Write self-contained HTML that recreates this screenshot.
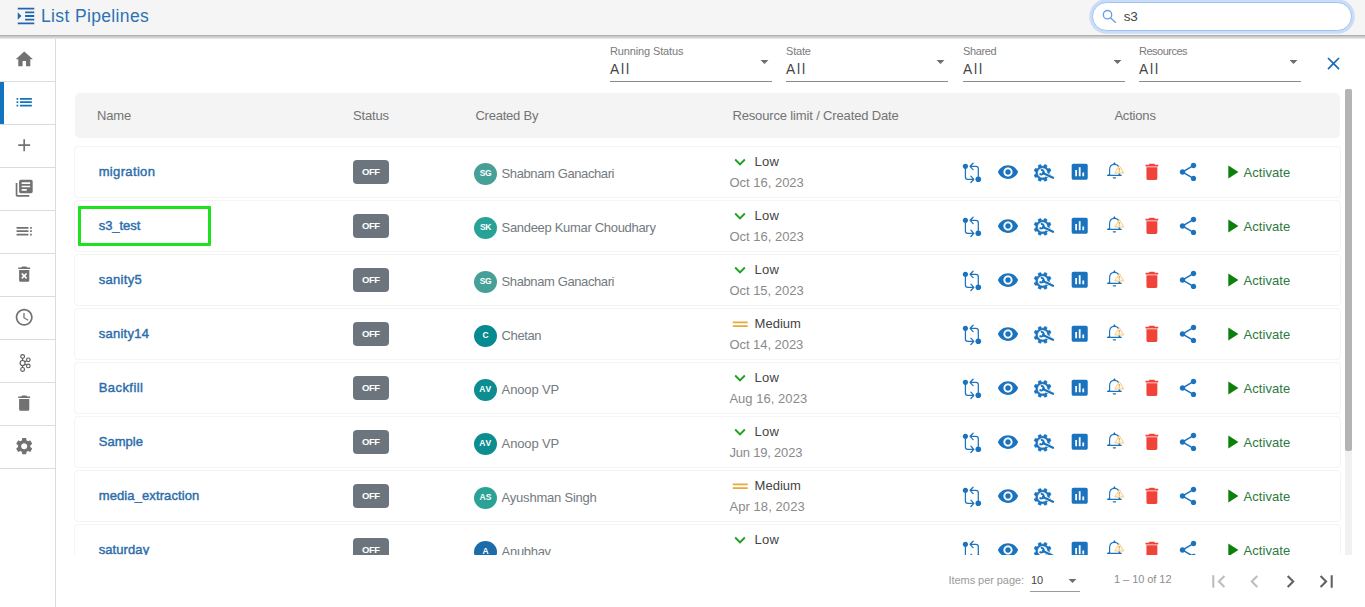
<!DOCTYPE html>
<html lang="en"><head><meta charset="utf-8"><title>List Pipelines</title>
<style>
html,body{margin:0;padding:0;}
body{width:1365px;height:607px;overflow:hidden;background:#fff;font-family:"Liberation Sans", sans-serif;position:relative;}
.t{position:absolute;white-space:nowrap;line-height:20px;display:block;}
.ic{position:absolute;display:block;}
.abs{position:absolute;}
.ctr{transform:translateX(-50%);}
.sb{-webkit-text-stroke:0.42px #2b6dab;}
#topbar{position:absolute;left:0;top:0;width:1365px;height:35px;background:#f5f5f5;z-index:5;}
#tshadow{position:absolute;left:0;top:35px;width:1365px;height:4px;z-index:6;background:linear-gradient(to bottom,#b1b1b1 0,#b1b1b1 25%,#c6c6c6 25%,#c6c6c6 50%,#d7d7d7 50%,#d7d7d7 75%,#e4e4e4 75%,#e4e4e4 100%);}
#search{position:absolute;left:1092px;top:2px;width:258px;height:27px;border:1px solid #9cc3f3;border-radius:15px;background:#fff;box-shadow:0 0 0 2.8px rgba(13,110,253,.18);}
#side{position:absolute;left:0;top:35px;width:55px;height:572px;border-right:1px solid #dcdcdc;background:#fff;}
.sitem{position:absolute;left:0;width:55px;height:42px;border-bottom:1px solid #dddddd;}
.sel{position:absolute;height:1px;background:#8a8a8a;}
#thead{position:absolute;left:75px;top:93px;width:1265px;height:45px;background:#f4f4f4;border-radius:5px;}
#clip{position:absolute;left:70px;top:139px;width:1290px;height:416px;overflow:hidden;}
.row{position:absolute;left:4px;width:1265px;height:50px;border:1px solid #f4f4f4;border-radius:4px;background:#fff;}
.badge{position:absolute;left:283px;width:36px;height:24px;border-radius:4px;background:#6c757d;}
.av{position:absolute;width:23px;height:22px;border-radius:50%;}
</style></head><body>

<div id="topbar">
<svg class="ic" style="left:14.50px;top:4.80px;width:22px;height:22px;fill:#2268ab;" viewBox="0 0 24 24"><path d="M3 21h18v-2H3v2zM3 8v8l4-4-4-4zm8 9h10v-2H11v2zM3 3v2h18V3H3zm8 6h10V7H11v2zm0 4h10v-2H11v2z"/></svg>
<span class="t " style="left:41.00px;top:5.64px;font-size:17.5px;color:#2e72b2;font-weight:400;letter-spacing:0.357px">List Pipelines</span>
<div id="search"></div>
<svg class="ic" style="left:1100px;top:8px;width:20px;height:18px" viewBox="0 0 20 18" fill="none" stroke="#6a9fe0" stroke-width="1.35" stroke-linecap="round"><circle cx="7.5" cy="6.7" r="4.2"/><path d="M10.700 10L15.500 14.400"/></svg>
<span class="t " style="left:1123.70px;top:6.52px;font-size:13.5px;color:#444;font-weight:400;letter-spacing:-0.250px">s3</span>
</div>
<div id="tshadow"></div>
<div id="side"></div>
<div class="abs" style="left:0;top:81px;width:55px;height:1px;background:#dcdcdc"></div>
<svg class="ic" style="left:14.00px;top:48.80px;width:20.6px;height:20.6px;fill:#727272;" viewBox="0 0 24 24"><path d="M10 20v-6h4v6h5v-8h3L12 3 2 12h3v8z"/></svg>
<div class="abs" style="left:0;top:124px;width:55px;height:1px;background:#dcdcdc"></div>
<div class="abs" style="left:0;top:82px;width:4px;height:42px;background:#1273be"></div>
<svg class="ic" style="left:13.90px;top:92.00px;width:20.4px;height:20.4px;fill:#1273be;" viewBox="0 0 24 24"><path d="M3 13h2v-2H3v2zm0 4h2v-2H3v2zm0-8h2V7H3v2zm4 4h14v-2H7v2zm0 4h14v-2H7v2zM7 7v2h14V7H7z"/></svg>
<div class="abs" style="left:0;top:167px;width:55px;height:1px;background:#dcdcdc"></div>
<svg class="ic" style="left:13.90px;top:135.00px;width:20.4px;height:20.4px;fill:#727272;" viewBox="0 0 24 24"><path d="M19 13h-6v6h-2v-6H5v-2h6V5h2v6h6v2z"/></svg>
<div class="abs" style="left:0;top:210px;width:55px;height:1px;background:#dcdcdc"></div>
<svg class="ic" style="left:13.90px;top:178.00px;width:20.4px;height:20.4px;fill:#727272;" viewBox="0 0 24 24"><path d="M4 6H2v14c0 1.1.9 2 2 2h14v-2H4V6zm16-4H8c-1.1 0-2 .9-2 2v12c0 1.1.9 2 2 2h12c1.1 0 2-.9 2-2V4c0-1.1-.9-2-2-2zm-1 9H9V9h10v2zm-4 4H9v-2h6v2zm4-8H9V5h10v2z"/></svg>
<div class="abs" style="left:0;top:253px;width:55px;height:1px;background:#dcdcdc"></div>
<svg class="ic" style="left:13.90px;top:221.00px;width:20.4px;height:20.4px;fill:#727272;" viewBox="0 0 24 24"><path d="M3 9h14V7H3v2zm0 4h14v-2H3v2zm0 4h14v-2H3v2zm16 0h2v-2h-2v2zm0-10v2h2V7h-2zm0 6h2v-2h-2v2z"/></svg>
<div class="abs" style="left:0;top:296px;width:55px;height:1px;background:#dcdcdc"></div>
<svg class="ic" style="left:13.90px;top:264.00px;width:20.4px;height:20.4px;fill:#727272;" viewBox="0 0 24 24"><path d="M6 19c0 1.1.9 2 2 2h8c1.1 0 2-.9 2-2V7H6v12zm2.46-7.12l1.41-1.41L12 12.59l2.12-2.12 1.41 1.41L13.41 14l2.12 2.12-1.41 1.41L12 15.41l-2.12 2.12-1.41-1.41L10.59 14l-2.13-2.12zM15.5 4l-1-1h-5l-1 1H5v2h14V4z"/></svg>
<div class="abs" style="left:0;top:339px;width:55px;height:1px;background:#dcdcdc"></div>
<svg class="ic" style="left:13.90px;top:307.00px;width:20.4px;height:20.4px;fill:#727272;" viewBox="0 0 24 24"><path d="M11.99 2C6.47 2 2 6.48 2 12s4.47 10 9.99 10C17.52 22 22 17.52 22 12S17.52 2 11.99 2zM12 20c-4.42 0-8-3.58-8-8s3.58-8 8-8 8 3.58 8 8-3.58 8-8 8zm.5-13H11v6l5.25 3.15.75-1.23-4.5-2.67z"/></svg>
<div class="abs" style="left:0;top:382px;width:55px;height:1px;background:#dcdcdc"></div>
<svg class="ic" style="left:14px;top:350.6px;width:24px;height:24px" viewBox="0 0 24 24" fill="none" stroke="#5c5c5c" stroke-width="1.15"><circle cx="8.6" cy="5.5" r="1.9"/><circle cx="8.6" cy="12" r="2.5"/><circle cx="8.6" cy="18.4" r="1.9"/><circle cx="14.3" cy="8.8" r="1.8"/><circle cx="14.3" cy="14.9" r="1.8"/><path d="M8.6 7.400V9.500M8.600 14.500V16.500M10.800 10.800L12.700 9.700M10.800 13.200L12.700 14.100"/></svg>
<div class="abs" style="left:0;top:425px;width:55px;height:1px;background:#dcdcdc"></div>
<svg class="ic" style="left:13.90px;top:393.00px;width:20.4px;height:20.4px;fill:#727272;" viewBox="0 0 24 24"><path d="M6 19c0 1.1.9 2 2 2h8c1.1 0 2-.9 2-2V7H6v12zM19 4h-3.5l-1-1h-5l-1 1H5v2h14V4z"/></svg>
<div class="abs" style="left:0;top:468px;width:55px;height:1px;background:#dcdcdc"></div>
<svg class="ic" style="left:13.90px;top:436.00px;width:20.4px;height:20.4px;fill:#727272;" viewBox="0 0 24 24"><path d="M19.14 12.94c.04-.3.06-.61.06-.94 0-.32-.02-.64-.07-.94l2.03-1.58c.18-.14.23-.41.12-.61l-1.92-3.32c-.12-.22-.37-.29-.59-.22l-2.39.96c-.5-.38-1.03-.7-1.62-.94l-.36-2.54c-.04-.24-.24-.41-.48-.41h-3.84c-.24 0-.43.17-.47.41l-.36 2.54c-.59.24-1.13.57-1.62.94l-2.39-.96c-.22-.08-.47 0-.59.22L2.74 8.87c-.12.21-.08.47.12.61l2.03 1.58c-.05.3-.09.63-.09.94s.02.64.07.94l-2.03 1.58c-.18.14-.23.41-.12.61l1.92 3.32c.12.22.37.29.59.22l2.39-.96c.5.38 1.03.7 1.62.94l.36 2.54c.05.24.24.41.48.41h3.84c.24 0 .44-.17.47-.41l.36-2.54c.59-.24 1.13-.56 1.62-.94l2.39.96c.22.08.47 0 .59-.22l1.92-3.32c.12-.22.07-.47-.12-.61l-2.01-1.58zM12 15.6c-1.98 0-3.6-1.62-3.6-3.6s1.62-3.6 3.6-3.6 3.6 1.62 3.6 3.6-1.62 3.6-3.6 3.6z"/></svg>
<span class="t " style="left:610.00px;top:41.19px;font-size:11px;color:#7a7a7a;font-weight:400;letter-spacing:-0.132px">Running Status</span>
<span class="t " style="left:610.00px;top:59.92px;font-size:13.8px;color:#444;font-weight:400;letter-spacing:1.866px">All</span>
<div class="sel" style="left:610px;top:81px;width:162px"></div>
<svg class="ic" style="left:754.80px;top:51.70px;width:19px;height:19px;fill:#6e6e6e;" viewBox="0 0 24 24"><path d="M7 10l5 5 5-5z"/></svg>
<span class="t " style="left:786.00px;top:41.19px;font-size:11px;color:#7a7a7a;font-weight:400;letter-spacing:-0.192px">State</span>
<span class="t " style="left:786.00px;top:59.92px;font-size:13.8px;color:#444;font-weight:400;letter-spacing:1.866px">All</span>
<div class="sel" style="left:786px;top:81px;width:162px"></div>
<svg class="ic" style="left:930.80px;top:51.70px;width:19px;height:19px;fill:#6e6e6e;" viewBox="0 0 24 24"><path d="M7 10l5 5 5-5z"/></svg>
<span class="t " style="left:963.00px;top:41.19px;font-size:11px;color:#7a7a7a;font-weight:400;letter-spacing:-0.391px">Shared</span>
<span class="t " style="left:963.00px;top:59.92px;font-size:13.8px;color:#444;font-weight:400;letter-spacing:1.866px">All</span>
<div class="sel" style="left:963px;top:81px;width:162px"></div>
<svg class="ic" style="left:1107.80px;top:51.70px;width:19px;height:19px;fill:#6e6e6e;" viewBox="0 0 24 24"><path d="M7 10l5 5 5-5z"/></svg>
<span class="t " style="left:1139.00px;top:41.19px;font-size:11px;color:#7a7a7a;font-weight:400;letter-spacing:-0.510px">Resources</span>
<span class="t " style="left:1139.00px;top:59.92px;font-size:13.8px;color:#444;font-weight:400;letter-spacing:1.866px">All</span>
<div class="sel" style="left:1139px;top:81px;width:162px"></div>
<svg class="ic" style="left:1283.80px;top:51.70px;width:19px;height:19px;fill:#6e6e6e;" viewBox="0 0 24 24"><path d="M7 10l5 5 5-5z"/></svg>
<svg class="ic" style="left:1323.30px;top:53.30px;width:21px;height:21px;fill:#1f6db5;" viewBox="0 0 24 24"><path d="M19 6.41L17.59 5 12 10.59 6.41 5 5 6.41 10.59 12 5 17.59 6.41 19 12 13.41 17.59 19 19 17.59 13.41 12z"/></svg>
<div id="thead"></div>
<span class="t " style="left:97.00px;top:105.50px;font-size:13px;color:#737373;font-weight:400;letter-spacing:-0.149px">Name</span>
<span class="t " style="left:353.00px;top:105.50px;font-size:13px;color:#737373;font-weight:400;letter-spacing:-0.151px">Status</span>
<span class="t " style="left:475.40px;top:105.50px;font-size:13px;color:#737373;font-weight:400;letter-spacing:-0.215px">Created By</span>
<span class="t " style="left:732.40px;top:105.50px;font-size:13px;color:#737373;font-weight:400;letter-spacing:-0.146px">Resource limit / Created Date</span>
<span class="t " style="left:1114.40px;top:105.50px;font-size:13px;color:#737373;font-weight:400;letter-spacing:-0.188px">Actions</span>
<div id="clip">
<div class="row" style="top:7px"></div>
<span class="t sb" style="left:28.70px;top:22.50px;font-size:13px;color:#2b6dab;font-weight:400;letter-spacing:0.345px">migration</span>
<div class="badge" style="top:21px"></div>
<span class="t " style="left:292.00px;top:23.11px;font-size:9.5px;color:#fff;font-weight:700;letter-spacing:-0.496px">OFF</span>
<div class="av" style="left:404px;top:24px;background:#47a098"></div>
<span class="t ctr" style="left:415.50px;top:24.25px;font-size:8.5px;color:#fff;font-weight:700;letter-spacing:-0.269px">SG</span>
<span class="t " style="left:431.60px;top:24.50px;font-size:13px;color:#737a80;font-weight:400;letter-spacing:-0.397px">Shabnam Ganachari</span>
<svg class="ic" style="left:658.90px;top:11.60px;width:22px;height:22px;fill:#1fa21f;" viewBox="0 0 24 24"><path d="M16.59 8.59L12 13.17 7.41 8.59 6 10l6 6 6-6z"/></svg>
<span class="t " style="left:684.60px;top:12.50px;font-size:13px;color:#444;font-weight:400;letter-spacing:0.170px">Low</span>
<span class="t " style="left:659.40px;top:33.50px;font-size:13px;color:#8a8a8a;font-weight:400;letter-spacing:-0.001px">Oct 16, 2023</span>
<svg class="ic" style="left:890px;top:21px;width:24px;height:26px" viewBox="0 0 24 26" fill="none" stroke="#1a73be" stroke-width="1.25" stroke-linecap="round" stroke-linejoin="round"><circle cx="5.4" cy="6.2" r="2.55" fill="#1a73be" stroke="none"/><circle cx="18.3" cy="19.3" r="2.8" fill="#1a73be" stroke="none"/><path d="M5.4 6.2V17Q5.4 19.300 7.700 19.300H13.400M10.900 16.100L13.800 19.300L10.900 22.500"/><path d="M18.300 19.300V8.600Q18.300 6.300 16 6.300H10.500M13.100 3.200L10.100 6.300L13.100 9.600"/></svg>
<svg class="ic" style="left:927.00px;top:22.10px;width:22px;height:22px;fill:#1a73be;" viewBox="0 0 24 24"><path d="M12 4.5C7 4.5 2.73 7.61 1 12c1.73 4.39 6 7.5 11 7.5s9.27-3.11 11-7.5c-1.73-4.39-6-7.5-11-7.5zM12 17c-2.76 0-5-2.24-5-5s2.24-5 5-5 5 2.24 5 5-2.24 5-5 5zm0-8c-1.66 0-3 1.34-3 3s1.34 3 3 3 3-1.34 3-3-1.34-3-3-3z"/></svg>
<svg class="ic" style="left:961px;top:23px;width:26px;height:22px" viewBox="0 0 26 22"><path d="M18.23 11.89L19.94 12.98L18.97 15.33L16.99 14.89L15.59 16.29L16.03 18.27L13.68 19.24L12.59 17.53L10.61 17.53L9.52 19.24L7.17 18.27L7.61 16.29L6.21 14.89L4.23 15.33L3.26 12.98L4.97 11.89L4.97 9.91L3.26 8.82L4.23 6.47L6.21 6.91L7.61 5.51L7.17 3.53L9.52 2.56L10.61 4.27L12.59 4.27L13.68 2.56L16.03 3.53L15.59 5.51L16.99 6.91L18.97 6.47L19.94 8.82L18.23 9.91ZM6.45 10.90a5.15 5.15 0 1 0 10.30 0a5.15 5.15 0 1 0 -10.30 0Z" fill="#1a73be" fill-rule="evenodd" stroke="#1a73be" stroke-width="0.700" stroke-linejoin="round"/><path d="M13 11.500L22 15.700" stroke="#fff" stroke-width="3.600" stroke-linecap="butt"/><path d="M12 11L22 15.700" stroke="#1a73be" stroke-width="2.300" stroke-linecap="round"/><path d="M9.850 8.200A2.200 2.200 0 1 1 8.700 11.400" fill="none" stroke="#1a73be" stroke-width="1.900" stroke-linecap="butt"/></svg>
<svg class="ic" style="left:999.30px;top:22.30px;width:21.4px;height:21.4px;fill:#1a73be;" viewBox="0 0 24 24"><path d="M19 3H5c-1.1 0-2 .9-2 2v14c0 1.1.9 2 2 2h14c1.1 0 2-.9 2-2V5c0-1.1-.9-2-2-2zM9 17H7v-7h2v7zm4 0h-2V7h2v10zm4 0h-2v-4h2v4z"/></svg>
<svg class="ic" style="left:1034px;top:21px;width:24px;height:22px" viewBox="0 0 24 22" fill="none"><path d="M5.600 15V9.800C5.600 6.300 7.400 4.300 10.400 4.300C13.400 4.300 15.200 6.300 15.200 9.800V15" stroke="#1a73be" stroke-width="1.150"/><path d="M3.600 15.300H17.200" stroke="#1a73be" stroke-width="1.300" stroke-linecap="round"/><path d="M3.500 15.500L5.600 13.300V15.500ZM17.300 15.500L15.200 13.300V15.500ZM8.500 4.900L10.400 1.900L12.300 4.900Z" fill="#1a73be"/><path d="M9.300 17.800H11.500" stroke="#1a73be" stroke-width="1.300" stroke-linecap="round"/><path d="M15.300 5.700L19.900 13H10.700Z" fill="#fff8ea" stroke="#f7c47c" stroke-width="0.900" stroke-linejoin="round"/><path d="M15.300 8V10.600M15.300 11.300V12.100" stroke="#eea236" stroke-width="1.200"/></svg>
<svg class="ic" style="left:1071.10px;top:22.10px;width:21.8px;height:21.8px;fill:#f0433a;" viewBox="0 0 24 24"><path d="M6 19c0 1.1.9 2 2 2h8c1.1 0 2-.9 2-2V7H6v12zM19 4h-3.5l-1-1h-5l-1 1H5v2h14V4z"/></svg>
<svg class="ic" style="left:1107.20px;top:22.00px;width:22px;height:22px;fill:#1a73be;" viewBox="0 0 24 24"><path d="M18 16.08c-.76 0-1.44.3-1.96.77L8.91 12.7c.05-.23.09-.46.09-.7s-.04-.47-.09-.7l7.05-4.11c.54.5 1.25.81 2.04.81 1.66 0 3-1.34 3-3s-1.34-3-3-3-3 1.34-3 3c0 .24.04.47.09.7L8.040 9.810C7.500 9.310 6.790 9 6 9c-1.660 0-3 1.340-3 3s1.340 3 3 3c.790 0 1.500-.310 2.040-.810l7.120 4.160c-.05.21-.08.43-.08.65 0 1.61 1.310 2.920 2.920 2.920 1.610 0 2.920-1.310 2.920-2.920s-1.310-2.920-2.920-2.920z"/></svg>
<svg class="ic" style="left:1150.70px;top:21.90px;width:22px;height:22px;fill:#0c800c;" viewBox="0 0 24 24"><path d="M8 5v14l11-7z"/></svg>
<span class="t " style="left:1173.40px;top:23.50px;font-size:13px;color:#2c7a3c;font-weight:400;letter-spacing:0.084px">Activate</span>
<div class="row" style="top:61px"></div>
<div class="abs" style="left:8px;top:67px;width:127px;height:34px;border:3px solid #1de21d;border-radius:1px"></div>
<span class="t sb" style="left:28.70px;top:76.50px;font-size:13px;color:#2b6dab;font-weight:400;letter-spacing:-0.050px">s3_test</span>
<div class="badge" style="top:75px"></div>
<span class="t " style="left:292.00px;top:77.11px;font-size:9.5px;color:#fff;font-weight:700;letter-spacing:-0.496px">OFF</span>
<div class="av" style="left:404px;top:78px;background:#28a297"></div>
<span class="t ctr" style="left:415.50px;top:78.25px;font-size:8.5px;color:#fff;font-weight:700;letter-spacing:-0.469px">SK</span>
<span class="t " style="left:431.60px;top:78.50px;font-size:13px;color:#737a80;font-weight:400;letter-spacing:-0.312px">Sandeep Kumar Choudhary</span>
<svg class="ic" style="left:658.90px;top:65.60px;width:22px;height:22px;fill:#1fa21f;" viewBox="0 0 24 24"><path d="M16.59 8.59L12 13.17 7.41 8.59 6 10l6 6 6-6z"/></svg>
<span class="t " style="left:684.60px;top:66.50px;font-size:13px;color:#444;font-weight:400;letter-spacing:0.170px">Low</span>
<span class="t " style="left:659.40px;top:87.50px;font-size:13px;color:#8a8a8a;font-weight:400;letter-spacing:-0.001px">Oct 16, 2023</span>
<svg class="ic" style="left:890px;top:75px;width:24px;height:26px" viewBox="0 0 24 26" fill="none" stroke="#1a73be" stroke-width="1.25" stroke-linecap="round" stroke-linejoin="round"><circle cx="5.4" cy="6.2" r="2.55" fill="#1a73be" stroke="none"/><circle cx="18.3" cy="19.3" r="2.8" fill="#1a73be" stroke="none"/><path d="M5.4 6.2V17Q5.4 19.300 7.700 19.300H13.400M10.900 16.100L13.800 19.300L10.900 22.500"/><path d="M18.300 19.300V8.600Q18.300 6.300 16 6.300H10.500M13.100 3.200L10.100 6.300L13.100 9.600"/></svg>
<svg class="ic" style="left:927.00px;top:76.10px;width:22px;height:22px;fill:#1a73be;" viewBox="0 0 24 24"><path d="M12 4.5C7 4.5 2.73 7.61 1 12c1.73 4.39 6 7.5 11 7.5s9.27-3.11 11-7.5c-1.73-4.39-6-7.5-11-7.5zM12 17c-2.76 0-5-2.24-5-5s2.24-5 5-5 5 2.24 5 5-2.24 5-5 5zm0-8c-1.66 0-3 1.34-3 3s1.34 3 3 3 3-1.34 3-3-1.34-3-3-3z"/></svg>
<svg class="ic" style="left:961px;top:77px;width:26px;height:22px" viewBox="0 0 26 22"><path d="M18.23 11.89L19.94 12.98L18.97 15.33L16.99 14.89L15.59 16.29L16.03 18.27L13.68 19.24L12.59 17.53L10.61 17.53L9.52 19.24L7.17 18.27L7.61 16.29L6.21 14.89L4.23 15.33L3.26 12.98L4.97 11.89L4.97 9.91L3.26 8.82L4.23 6.47L6.21 6.91L7.61 5.51L7.17 3.53L9.52 2.56L10.61 4.27L12.59 4.27L13.68 2.56L16.03 3.53L15.59 5.51L16.99 6.91L18.97 6.47L19.94 8.82L18.23 9.91ZM6.45 10.90a5.15 5.15 0 1 0 10.30 0a5.15 5.15 0 1 0 -10.30 0Z" fill="#1a73be" fill-rule="evenodd" stroke="#1a73be" stroke-width="0.700" stroke-linejoin="round"/><path d="M13 11.500L22 15.700" stroke="#fff" stroke-width="3.600" stroke-linecap="butt"/><path d="M12 11L22 15.700" stroke="#1a73be" stroke-width="2.300" stroke-linecap="round"/><path d="M9.850 8.200A2.200 2.200 0 1 1 8.700 11.400" fill="none" stroke="#1a73be" stroke-width="1.900" stroke-linecap="butt"/></svg>
<svg class="ic" style="left:999.30px;top:76.30px;width:21.4px;height:21.4px;fill:#1a73be;" viewBox="0 0 24 24"><path d="M19 3H5c-1.1 0-2 .9-2 2v14c0 1.1.9 2 2 2h14c1.1 0 2-.9 2-2V5c0-1.1-.9-2-2-2zM9 17H7v-7h2v7zm4 0h-2V7h2v10zm4 0h-2v-4h2v4z"/></svg>
<svg class="ic" style="left:1034px;top:75px;width:24px;height:22px" viewBox="0 0 24 22" fill="none"><path d="M5.600 15V9.800C5.600 6.300 7.400 4.300 10.400 4.300C13.400 4.300 15.200 6.300 15.200 9.800V15" stroke="#1a73be" stroke-width="1.150"/><path d="M3.600 15.300H17.200" stroke="#1a73be" stroke-width="1.300" stroke-linecap="round"/><path d="M3.500 15.500L5.600 13.300V15.500ZM17.300 15.500L15.200 13.300V15.500ZM8.500 4.900L10.400 1.900L12.300 4.900Z" fill="#1a73be"/><path d="M9.300 17.800H11.500" stroke="#1a73be" stroke-width="1.300" stroke-linecap="round"/><path d="M15.300 5.700L19.900 13H10.700Z" fill="#fff8ea" stroke="#f7c47c" stroke-width="0.900" stroke-linejoin="round"/><path d="M15.300 8V10.600M15.300 11.300V12.100" stroke="#eea236" stroke-width="1.200"/></svg>
<svg class="ic" style="left:1071.10px;top:76.10px;width:21.8px;height:21.8px;fill:#f0433a;" viewBox="0 0 24 24"><path d="M6 19c0 1.1.9 2 2 2h8c1.1 0 2-.9 2-2V7H6v12zM19 4h-3.5l-1-1h-5l-1 1H5v2h14V4z"/></svg>
<svg class="ic" style="left:1107.20px;top:76.00px;width:22px;height:22px;fill:#1a73be;" viewBox="0 0 24 24"><path d="M18 16.08c-.76 0-1.44.3-1.96.77L8.91 12.7c.05-.23.09-.46.09-.7s-.04-.47-.09-.7l7.05-4.11c.54.5 1.25.81 2.04.81 1.66 0 3-1.34 3-3s-1.34-3-3-3-3 1.34-3 3c0 .24.04.47.09.7L8.040 9.810C7.500 9.310 6.790 9 6 9c-1.660 0-3 1.340-3 3s1.340 3 3 3c.790 0 1.500-.310 2.040-.810l7.120 4.160c-.05.21-.08.43-.08.65 0 1.61 1.310 2.920 2.920 2.920 1.610 0 2.920-1.310 2.920-2.920s-1.310-2.920-2.920-2.920z"/></svg>
<svg class="ic" style="left:1150.70px;top:75.90px;width:22px;height:22px;fill:#0c800c;" viewBox="0 0 24 24"><path d="M8 5v14l11-7z"/></svg>
<span class="t " style="left:1173.40px;top:77.50px;font-size:13px;color:#2c7a3c;font-weight:400;letter-spacing:0.084px">Activate</span>
<div class="row" style="top:115px"></div>
<span class="t sb" style="left:28.70px;top:130.50px;font-size:13px;color:#2b6dab;font-weight:400;letter-spacing:0.307px">sanity5</span>
<div class="badge" style="top:129px"></div>
<span class="t " style="left:292.00px;top:131.11px;font-size:9.5px;color:#fff;font-weight:700;letter-spacing:-0.496px">OFF</span>
<div class="av" style="left:404px;top:132px;background:#47a098"></div>
<span class="t ctr" style="left:415.50px;top:132.25px;font-size:8.5px;color:#fff;font-weight:700;letter-spacing:-0.269px">SG</span>
<span class="t " style="left:431.60px;top:132.50px;font-size:13px;color:#737a80;font-weight:400;letter-spacing:-0.397px">Shabnam Ganachari</span>
<svg class="ic" style="left:658.90px;top:119.60px;width:22px;height:22px;fill:#1fa21f;" viewBox="0 0 24 24"><path d="M16.59 8.59L12 13.17 7.41 8.59 6 10l6 6 6-6z"/></svg>
<span class="t " style="left:684.60px;top:120.50px;font-size:13px;color:#444;font-weight:400;letter-spacing:0.170px">Low</span>
<span class="t " style="left:659.40px;top:141.50px;font-size:13px;color:#8a8a8a;font-weight:400;letter-spacing:-0.019px">Oct 15, 2023</span>
<svg class="ic" style="left:890px;top:129px;width:24px;height:26px" viewBox="0 0 24 26" fill="none" stroke="#1a73be" stroke-width="1.25" stroke-linecap="round" stroke-linejoin="round"><circle cx="5.4" cy="6.2" r="2.55" fill="#1a73be" stroke="none"/><circle cx="18.3" cy="19.3" r="2.8" fill="#1a73be" stroke="none"/><path d="M5.4 6.2V17Q5.4 19.300 7.700 19.300H13.400M10.900 16.100L13.800 19.300L10.900 22.500"/><path d="M18.300 19.300V8.600Q18.300 6.300 16 6.300H10.500M13.100 3.200L10.100 6.300L13.100 9.600"/></svg>
<svg class="ic" style="left:927.00px;top:130.10px;width:22px;height:22px;fill:#1a73be;" viewBox="0 0 24 24"><path d="M12 4.5C7 4.5 2.73 7.61 1 12c1.73 4.39 6 7.5 11 7.5s9.27-3.11 11-7.5c-1.73-4.39-6-7.5-11-7.5zM12 17c-2.76 0-5-2.24-5-5s2.24-5 5-5 5 2.24 5 5-2.24 5-5 5zm0-8c-1.66 0-3 1.34-3 3s1.34 3 3 3 3-1.34 3-3-1.34-3-3-3z"/></svg>
<svg class="ic" style="left:961px;top:131px;width:26px;height:22px" viewBox="0 0 26 22"><path d="M18.23 11.89L19.94 12.98L18.97 15.33L16.99 14.89L15.59 16.29L16.03 18.27L13.68 19.24L12.59 17.53L10.61 17.53L9.52 19.24L7.17 18.27L7.61 16.29L6.21 14.89L4.23 15.33L3.26 12.98L4.97 11.89L4.97 9.91L3.26 8.82L4.23 6.47L6.21 6.91L7.61 5.51L7.17 3.53L9.52 2.56L10.61 4.27L12.59 4.27L13.68 2.56L16.03 3.53L15.59 5.51L16.99 6.91L18.97 6.47L19.94 8.82L18.23 9.91ZM6.45 10.90a5.15 5.15 0 1 0 10.30 0a5.15 5.15 0 1 0 -10.30 0Z" fill="#1a73be" fill-rule="evenodd" stroke="#1a73be" stroke-width="0.700" stroke-linejoin="round"/><path d="M13 11.500L22 15.700" stroke="#fff" stroke-width="3.600" stroke-linecap="butt"/><path d="M12 11L22 15.700" stroke="#1a73be" stroke-width="2.300" stroke-linecap="round"/><path d="M9.850 8.200A2.200 2.200 0 1 1 8.700 11.400" fill="none" stroke="#1a73be" stroke-width="1.900" stroke-linecap="butt"/></svg>
<svg class="ic" style="left:999.30px;top:130.30px;width:21.4px;height:21.4px;fill:#1a73be;" viewBox="0 0 24 24"><path d="M19 3H5c-1.1 0-2 .9-2 2v14c0 1.1.9 2 2 2h14c1.1 0 2-.9 2-2V5c0-1.1-.9-2-2-2zM9 17H7v-7h2v7zm4 0h-2V7h2v10zm4 0h-2v-4h2v4z"/></svg>
<svg class="ic" style="left:1034px;top:129px;width:24px;height:22px" viewBox="0 0 24 22" fill="none"><path d="M5.600 15V9.800C5.600 6.300 7.400 4.300 10.400 4.300C13.400 4.300 15.200 6.300 15.200 9.800V15" stroke="#1a73be" stroke-width="1.150"/><path d="M3.600 15.300H17.200" stroke="#1a73be" stroke-width="1.300" stroke-linecap="round"/><path d="M3.500 15.500L5.600 13.300V15.500ZM17.300 15.500L15.200 13.300V15.500ZM8.500 4.900L10.400 1.900L12.300 4.900Z" fill="#1a73be"/><path d="M9.300 17.800H11.500" stroke="#1a73be" stroke-width="1.300" stroke-linecap="round"/><path d="M15.300 5.700L19.900 13H10.700Z" fill="#fff8ea" stroke="#f7c47c" stroke-width="0.900" stroke-linejoin="round"/><path d="M15.300 8V10.600M15.300 11.300V12.100" stroke="#eea236" stroke-width="1.200"/></svg>
<svg class="ic" style="left:1071.10px;top:130.10px;width:21.8px;height:21.8px;fill:#f0433a;" viewBox="0 0 24 24"><path d="M6 19c0 1.1.9 2 2 2h8c1.1 0 2-.9 2-2V7H6v12zM19 4h-3.5l-1-1h-5l-1 1H5v2h14V4z"/></svg>
<svg class="ic" style="left:1107.20px;top:130.00px;width:22px;height:22px;fill:#1a73be;" viewBox="0 0 24 24"><path d="M18 16.08c-.76 0-1.44.3-1.96.77L8.91 12.7c.05-.23.09-.46.09-.7s-.04-.47-.09-.7l7.05-4.11c.54.5 1.25.81 2.04.81 1.66 0 3-1.34 3-3s-1.34-3-3-3-3 1.34-3 3c0 .24.04.47.09.7L8.040 9.810C7.500 9.310 6.790 9 6 9c-1.660 0-3 1.340-3 3s1.340 3 3 3c.790 0 1.500-.310 2.040-.810l7.120 4.160c-.05.21-.08.43-.08.65 0 1.61 1.310 2.920 2.920 2.920 1.610 0 2.920-1.310 2.920-2.920s-1.310-2.920-2.920-2.920z"/></svg>
<svg class="ic" style="left:1150.70px;top:129.90px;width:22px;height:22px;fill:#0c800c;" viewBox="0 0 24 24"><path d="M8 5v14l11-7z"/></svg>
<span class="t " style="left:1173.40px;top:131.50px;font-size:13px;color:#2c7a3c;font-weight:400;letter-spacing:0.084px">Activate</span>
<div class="row" style="top:169px"></div>
<span class="t sb" style="left:28.70px;top:184.50px;font-size:13px;color:#2b6dab;font-weight:400;letter-spacing:0.259px">sanity14</span>
<div class="badge" style="top:183px"></div>
<span class="t " style="left:292.00px;top:185.11px;font-size:9.5px;color:#fff;font-weight:700;letter-spacing:-0.496px">OFF</span>
<div class="av" style="left:404px;top:186px;background:#058a90"></div>
<span class="t ctr" style="left:415.50px;top:186.25px;font-size:8.5px;color:#fff;font-weight:700;letter-spacing:0.000px">C</span>
<span class="t " style="left:431.60px;top:186.50px;font-size:13px;color:#737a80;font-weight:400;letter-spacing:-0.418px">Chetan</span>
<svg class="ic" style="left:658.65px;top:173.75px;width:22.5px;height:22.5px;fill:#e9a83a;" viewBox="0 0 24 24"><path d="M20 9H4v2h16V9zM4 15h16v-2H4v2z"/></svg>
<span class="t " style="left:684.60px;top:174.50px;font-size:13px;color:#444;font-weight:400;letter-spacing:0.019px">Medium</span>
<span class="t " style="left:659.40px;top:195.50px;font-size:13px;color:#8a8a8a;font-weight:400;letter-spacing:-0.046px">Oct 14, 2023</span>
<svg class="ic" style="left:890px;top:183px;width:24px;height:26px" viewBox="0 0 24 26" fill="none" stroke="#1a73be" stroke-width="1.25" stroke-linecap="round" stroke-linejoin="round"><circle cx="5.4" cy="6.2" r="2.55" fill="#1a73be" stroke="none"/><circle cx="18.3" cy="19.3" r="2.8" fill="#1a73be" stroke="none"/><path d="M5.4 6.2V17Q5.4 19.300 7.700 19.300H13.400M10.900 16.100L13.800 19.300L10.900 22.500"/><path d="M18.300 19.300V8.600Q18.300 6.300 16 6.300H10.500M13.100 3.200L10.100 6.300L13.100 9.600"/></svg>
<svg class="ic" style="left:927.00px;top:184.10px;width:22px;height:22px;fill:#1a73be;" viewBox="0 0 24 24"><path d="M12 4.5C7 4.5 2.73 7.61 1 12c1.73 4.39 6 7.5 11 7.5s9.27-3.11 11-7.5c-1.73-4.39-6-7.5-11-7.5zM12 17c-2.76 0-5-2.24-5-5s2.24-5 5-5 5 2.24 5 5-2.24 5-5 5zm0-8c-1.66 0-3 1.34-3 3s1.34 3 3 3 3-1.34 3-3-1.34-3-3-3z"/></svg>
<svg class="ic" style="left:961px;top:185px;width:26px;height:22px" viewBox="0 0 26 22"><path d="M18.23 11.89L19.94 12.98L18.97 15.33L16.99 14.89L15.59 16.29L16.03 18.27L13.68 19.24L12.59 17.53L10.61 17.53L9.52 19.24L7.17 18.27L7.61 16.29L6.21 14.89L4.23 15.33L3.26 12.98L4.97 11.89L4.97 9.91L3.26 8.82L4.23 6.47L6.21 6.91L7.61 5.51L7.17 3.53L9.52 2.56L10.61 4.27L12.59 4.27L13.68 2.56L16.03 3.53L15.59 5.51L16.99 6.91L18.97 6.47L19.94 8.82L18.23 9.91ZM6.45 10.90a5.15 5.15 0 1 0 10.30 0a5.15 5.15 0 1 0 -10.30 0Z" fill="#1a73be" fill-rule="evenodd" stroke="#1a73be" stroke-width="0.700" stroke-linejoin="round"/><path d="M13 11.500L22 15.700" stroke="#fff" stroke-width="3.600" stroke-linecap="butt"/><path d="M12 11L22 15.700" stroke="#1a73be" stroke-width="2.300" stroke-linecap="round"/><path d="M9.850 8.200A2.200 2.200 0 1 1 8.700 11.400" fill="none" stroke="#1a73be" stroke-width="1.900" stroke-linecap="butt"/></svg>
<svg class="ic" style="left:999.30px;top:184.30px;width:21.4px;height:21.4px;fill:#1a73be;" viewBox="0 0 24 24"><path d="M19 3H5c-1.1 0-2 .9-2 2v14c0 1.1.9 2 2 2h14c1.1 0 2-.9 2-2V5c0-1.1-.9-2-2-2zM9 17H7v-7h2v7zm4 0h-2V7h2v10zm4 0h-2v-4h2v4z"/></svg>
<svg class="ic" style="left:1034px;top:183px;width:24px;height:22px" viewBox="0 0 24 22" fill="none"><path d="M5.600 15V9.800C5.600 6.300 7.400 4.300 10.400 4.300C13.400 4.300 15.200 6.300 15.200 9.800V15" stroke="#1a73be" stroke-width="1.150"/><path d="M3.600 15.300H17.200" stroke="#1a73be" stroke-width="1.300" stroke-linecap="round"/><path d="M3.500 15.500L5.600 13.300V15.500ZM17.300 15.500L15.200 13.300V15.500ZM8.500 4.900L10.400 1.900L12.300 4.900Z" fill="#1a73be"/><path d="M9.300 17.800H11.500" stroke="#1a73be" stroke-width="1.300" stroke-linecap="round"/><path d="M15.300 5.700L19.900 13H10.700Z" fill="#fff8ea" stroke="#f7c47c" stroke-width="0.900" stroke-linejoin="round"/><path d="M15.300 8V10.600M15.300 11.300V12.100" stroke="#eea236" stroke-width="1.200"/></svg>
<svg class="ic" style="left:1071.10px;top:184.10px;width:21.8px;height:21.8px;fill:#f0433a;" viewBox="0 0 24 24"><path d="M6 19c0 1.1.9 2 2 2h8c1.1 0 2-.9 2-2V7H6v12zM19 4h-3.5l-1-1h-5l-1 1H5v2h14V4z"/></svg>
<svg class="ic" style="left:1107.20px;top:184.00px;width:22px;height:22px;fill:#1a73be;" viewBox="0 0 24 24"><path d="M18 16.08c-.76 0-1.44.3-1.96.77L8.91 12.7c.05-.23.09-.46.09-.7s-.04-.47-.09-.7l7.05-4.11c.54.5 1.25.81 2.04.81 1.66 0 3-1.34 3-3s-1.34-3-3-3-3 1.34-3 3c0 .24.04.47.09.7L8.040 9.810C7.500 9.310 6.790 9 6 9c-1.660 0-3 1.340-3 3s1.340 3 3 3c.790 0 1.500-.310 2.040-.810l7.120 4.160c-.05.21-.08.43-.08.65 0 1.61 1.310 2.920 2.920 2.920 1.610 0 2.920-1.310 2.920-2.920s-1.310-2.920-2.920-2.920z"/></svg>
<svg class="ic" style="left:1150.70px;top:183.90px;width:22px;height:22px;fill:#0c800c;" viewBox="0 0 24 24"><path d="M8 5v14l11-7z"/></svg>
<span class="t " style="left:1173.40px;top:185.50px;font-size:13px;color:#2c7a3c;font-weight:400;letter-spacing:0.084px">Activate</span>
<div class="row" style="top:223px"></div>
<span class="t sb" style="left:28.70px;top:238.50px;font-size:13px;color:#2b6dab;font-weight:400;letter-spacing:0.444px">Backfill</span>
<div class="badge" style="top:237px"></div>
<span class="t " style="left:292.00px;top:239.11px;font-size:9.5px;color:#fff;font-weight:700;letter-spacing:-0.496px">OFF</span>
<div class="av" style="left:404px;top:240px;background:#0d8d8f"></div>
<span class="t ctr" style="left:415.50px;top:240.25px;font-size:8.5px;color:#fff;font-weight:700;letter-spacing:0.692px">AV</span>
<span class="t " style="left:431.60px;top:240.50px;font-size:13px;color:#737a80;font-weight:400;letter-spacing:-0.125px">Anoop VP</span>
<svg class="ic" style="left:658.90px;top:227.60px;width:22px;height:22px;fill:#1fa21f;" viewBox="0 0 24 24"><path d="M16.59 8.59L12 13.17 7.41 8.59 6 10l6 6 6-6z"/></svg>
<span class="t " style="left:684.60px;top:228.50px;font-size:13px;color:#444;font-weight:400;letter-spacing:0.170px">Low</span>
<span class="t " style="left:659.40px;top:249.50px;font-size:13px;color:#8a8a8a;font-weight:400;letter-spacing:0.035px">Aug 16, 2023</span>
<svg class="ic" style="left:890px;top:237px;width:24px;height:26px" viewBox="0 0 24 26" fill="none" stroke="#1a73be" stroke-width="1.25" stroke-linecap="round" stroke-linejoin="round"><circle cx="5.4" cy="6.2" r="2.55" fill="#1a73be" stroke="none"/><circle cx="18.3" cy="19.3" r="2.8" fill="#1a73be" stroke="none"/><path d="M5.4 6.2V17Q5.4 19.300 7.700 19.300H13.400M10.900 16.100L13.800 19.300L10.900 22.500"/><path d="M18.300 19.300V8.600Q18.300 6.300 16 6.300H10.500M13.100 3.200L10.100 6.300L13.100 9.600"/></svg>
<svg class="ic" style="left:927.00px;top:238.10px;width:22px;height:22px;fill:#1a73be;" viewBox="0 0 24 24"><path d="M12 4.5C7 4.5 2.73 7.61 1 12c1.73 4.39 6 7.5 11 7.5s9.27-3.11 11-7.5c-1.73-4.39-6-7.5-11-7.5zM12 17c-2.76 0-5-2.24-5-5s2.24-5 5-5 5 2.24 5 5-2.24 5-5 5zm0-8c-1.66 0-3 1.34-3 3s1.34 3 3 3 3-1.34 3-3-1.34-3-3-3z"/></svg>
<svg class="ic" style="left:961px;top:239px;width:26px;height:22px" viewBox="0 0 26 22"><path d="M18.23 11.89L19.94 12.98L18.97 15.33L16.99 14.89L15.59 16.29L16.03 18.27L13.68 19.24L12.59 17.53L10.61 17.53L9.52 19.24L7.17 18.27L7.61 16.29L6.21 14.89L4.23 15.33L3.26 12.98L4.97 11.89L4.97 9.91L3.26 8.82L4.23 6.47L6.21 6.91L7.61 5.51L7.17 3.53L9.52 2.56L10.61 4.27L12.59 4.27L13.68 2.56L16.03 3.53L15.59 5.51L16.99 6.91L18.97 6.47L19.94 8.82L18.23 9.91ZM6.45 10.90a5.15 5.15 0 1 0 10.30 0a5.15 5.15 0 1 0 -10.30 0Z" fill="#1a73be" fill-rule="evenodd" stroke="#1a73be" stroke-width="0.700" stroke-linejoin="round"/><path d="M13 11.500L22 15.700" stroke="#fff" stroke-width="3.600" stroke-linecap="butt"/><path d="M12 11L22 15.700" stroke="#1a73be" stroke-width="2.300" stroke-linecap="round"/><path d="M9.850 8.200A2.200 2.200 0 1 1 8.700 11.400" fill="none" stroke="#1a73be" stroke-width="1.900" stroke-linecap="butt"/></svg>
<svg class="ic" style="left:999.30px;top:238.30px;width:21.4px;height:21.4px;fill:#1a73be;" viewBox="0 0 24 24"><path d="M19 3H5c-1.1 0-2 .9-2 2v14c0 1.1.9 2 2 2h14c1.1 0 2-.9 2-2V5c0-1.1-.9-2-2-2zM9 17H7v-7h2v7zm4 0h-2V7h2v10zm4 0h-2v-4h2v4z"/></svg>
<svg class="ic" style="left:1034px;top:237px;width:24px;height:22px" viewBox="0 0 24 22" fill="none"><path d="M5.600 15V9.800C5.600 6.300 7.400 4.300 10.400 4.300C13.400 4.300 15.200 6.300 15.200 9.800V15" stroke="#1a73be" stroke-width="1.150"/><path d="M3.600 15.300H17.200" stroke="#1a73be" stroke-width="1.300" stroke-linecap="round"/><path d="M3.500 15.500L5.600 13.300V15.500ZM17.300 15.500L15.200 13.300V15.500ZM8.500 4.900L10.400 1.900L12.300 4.900Z" fill="#1a73be"/><path d="M9.300 17.800H11.500" stroke="#1a73be" stroke-width="1.300" stroke-linecap="round"/><path d="M15.300 5.700L19.900 13H10.700Z" fill="#fff8ea" stroke="#f7c47c" stroke-width="0.900" stroke-linejoin="round"/><path d="M15.300 8V10.600M15.300 11.300V12.100" stroke="#eea236" stroke-width="1.200"/></svg>
<svg class="ic" style="left:1071.10px;top:238.10px;width:21.8px;height:21.8px;fill:#f0433a;" viewBox="0 0 24 24"><path d="M6 19c0 1.1.9 2 2 2h8c1.1 0 2-.9 2-2V7H6v12zM19 4h-3.5l-1-1h-5l-1 1H5v2h14V4z"/></svg>
<svg class="ic" style="left:1107.20px;top:238.00px;width:22px;height:22px;fill:#1a73be;" viewBox="0 0 24 24"><path d="M18 16.08c-.76 0-1.44.3-1.96.77L8.91 12.7c.05-.23.09-.46.09-.7s-.04-.47-.09-.7l7.05-4.11c.54.5 1.25.81 2.04.81 1.66 0 3-1.34 3-3s-1.34-3-3-3-3 1.34-3 3c0 .24.04.47.09.7L8.040 9.810C7.500 9.310 6.790 9 6 9c-1.660 0-3 1.340-3 3s1.340 3 3 3c.790 0 1.500-.310 2.040-.810l7.120 4.160c-.05.21-.08.43-.08.65 0 1.61 1.310 2.920 2.920 2.920 1.610 0 2.920-1.310 2.920-2.920s-1.310-2.920-2.920-2.920z"/></svg>
<svg class="ic" style="left:1150.70px;top:237.90px;width:22px;height:22px;fill:#0c800c;" viewBox="0 0 24 24"><path d="M8 5v14l11-7z"/></svg>
<span class="t " style="left:1173.40px;top:239.50px;font-size:13px;color:#2c7a3c;font-weight:400;letter-spacing:0.084px">Activate</span>
<div class="row" style="top:277px"></div>
<span class="t sb" style="left:28.70px;top:292.50px;font-size:13px;color:#2b6dab;font-weight:400;letter-spacing:0.030px">Sample</span>
<div class="badge" style="top:291px"></div>
<span class="t " style="left:292.00px;top:293.11px;font-size:9.5px;color:#fff;font-weight:700;letter-spacing:-0.496px">OFF</span>
<div class="av" style="left:404px;top:294px;background:#0d8d8f"></div>
<span class="t ctr" style="left:415.50px;top:294.25px;font-size:8.5px;color:#fff;font-weight:700;letter-spacing:0.692px">AV</span>
<span class="t " style="left:431.60px;top:294.50px;font-size:13px;color:#737a80;font-weight:400;letter-spacing:-0.125px">Anoop VP</span>
<svg class="ic" style="left:658.90px;top:281.60px;width:22px;height:22px;fill:#1fa21f;" viewBox="0 0 24 24"><path d="M16.59 8.59L12 13.17 7.41 8.59 6 10l6 6 6-6z"/></svg>
<span class="t " style="left:684.60px;top:282.50px;font-size:13px;color:#444;font-weight:400;letter-spacing:0.170px">Low</span>
<span class="t " style="left:659.40px;top:303.50px;font-size:13px;color:#8a8a8a;font-weight:400;letter-spacing:-0.195px">Jun 19, 2023</span>
<svg class="ic" style="left:890px;top:291px;width:24px;height:26px" viewBox="0 0 24 26" fill="none" stroke="#1a73be" stroke-width="1.25" stroke-linecap="round" stroke-linejoin="round"><circle cx="5.4" cy="6.2" r="2.55" fill="#1a73be" stroke="none"/><circle cx="18.3" cy="19.3" r="2.8" fill="#1a73be" stroke="none"/><path d="M5.4 6.2V17Q5.4 19.300 7.700 19.300H13.400M10.900 16.100L13.800 19.300L10.900 22.500"/><path d="M18.300 19.300V8.600Q18.300 6.300 16 6.300H10.500M13.100 3.200L10.100 6.300L13.100 9.600"/></svg>
<svg class="ic" style="left:927.00px;top:292.10px;width:22px;height:22px;fill:#1a73be;" viewBox="0 0 24 24"><path d="M12 4.5C7 4.5 2.73 7.61 1 12c1.73 4.39 6 7.5 11 7.5s9.27-3.11 11-7.5c-1.73-4.39-6-7.5-11-7.5zM12 17c-2.76 0-5-2.24-5-5s2.24-5 5-5 5 2.24 5 5-2.24 5-5 5zm0-8c-1.66 0-3 1.34-3 3s1.34 3 3 3 3-1.34 3-3-1.34-3-3-3z"/></svg>
<svg class="ic" style="left:961px;top:293px;width:26px;height:22px" viewBox="0 0 26 22"><path d="M18.23 11.89L19.94 12.98L18.97 15.33L16.99 14.89L15.59 16.29L16.03 18.27L13.68 19.24L12.59 17.53L10.61 17.53L9.52 19.24L7.17 18.27L7.61 16.29L6.21 14.89L4.23 15.33L3.26 12.98L4.97 11.89L4.97 9.91L3.26 8.82L4.23 6.47L6.21 6.91L7.61 5.51L7.17 3.53L9.52 2.56L10.61 4.27L12.59 4.27L13.68 2.56L16.03 3.53L15.59 5.51L16.99 6.91L18.97 6.47L19.94 8.82L18.23 9.91ZM6.45 10.90a5.15 5.15 0 1 0 10.30 0a5.15 5.15 0 1 0 -10.30 0Z" fill="#1a73be" fill-rule="evenodd" stroke="#1a73be" stroke-width="0.700" stroke-linejoin="round"/><path d="M13 11.500L22 15.700" stroke="#fff" stroke-width="3.600" stroke-linecap="butt"/><path d="M12 11L22 15.700" stroke="#1a73be" stroke-width="2.300" stroke-linecap="round"/><path d="M9.850 8.200A2.200 2.200 0 1 1 8.700 11.400" fill="none" stroke="#1a73be" stroke-width="1.900" stroke-linecap="butt"/></svg>
<svg class="ic" style="left:999.30px;top:292.30px;width:21.4px;height:21.4px;fill:#1a73be;" viewBox="0 0 24 24"><path d="M19 3H5c-1.1 0-2 .9-2 2v14c0 1.1.9 2 2 2h14c1.1 0 2-.9 2-2V5c0-1.1-.9-2-2-2zM9 17H7v-7h2v7zm4 0h-2V7h2v10zm4 0h-2v-4h2v4z"/></svg>
<svg class="ic" style="left:1034px;top:291px;width:24px;height:22px" viewBox="0 0 24 22" fill="none"><path d="M5.600 15V9.800C5.600 6.300 7.400 4.300 10.400 4.300C13.400 4.300 15.200 6.300 15.200 9.800V15" stroke="#1a73be" stroke-width="1.150"/><path d="M3.600 15.300H17.200" stroke="#1a73be" stroke-width="1.300" stroke-linecap="round"/><path d="M3.500 15.500L5.600 13.300V15.500ZM17.300 15.500L15.200 13.300V15.500ZM8.500 4.900L10.400 1.900L12.300 4.900Z" fill="#1a73be"/><path d="M9.300 17.800H11.500" stroke="#1a73be" stroke-width="1.300" stroke-linecap="round"/><path d="M15.300 5.700L19.900 13H10.700Z" fill="#fff8ea" stroke="#f7c47c" stroke-width="0.900" stroke-linejoin="round"/><path d="M15.300 8V10.600M15.300 11.300V12.100" stroke="#eea236" stroke-width="1.200"/></svg>
<svg class="ic" style="left:1071.10px;top:292.10px;width:21.8px;height:21.8px;fill:#f0433a;" viewBox="0 0 24 24"><path d="M6 19c0 1.1.9 2 2 2h8c1.1 0 2-.9 2-2V7H6v12zM19 4h-3.5l-1-1h-5l-1 1H5v2h14V4z"/></svg>
<svg class="ic" style="left:1107.20px;top:292.00px;width:22px;height:22px;fill:#1a73be;" viewBox="0 0 24 24"><path d="M18 16.08c-.76 0-1.44.3-1.96.77L8.91 12.7c.05-.23.09-.46.09-.7s-.04-.47-.09-.7l7.05-4.11c.54.5 1.25.81 2.04.81 1.66 0 3-1.34 3-3s-1.34-3-3-3-3 1.34-3 3c0 .24.04.47.09.7L8.040 9.810C7.500 9.310 6.790 9 6 9c-1.660 0-3 1.340-3 3s1.340 3 3 3c.790 0 1.500-.310 2.040-.810l7.120 4.160c-.05.21-.08.43-.08.65 0 1.61 1.310 2.920 2.920 2.920 1.610 0 2.920-1.310 2.920-2.920s-1.310-2.920-2.920-2.920z"/></svg>
<svg class="ic" style="left:1150.70px;top:291.90px;width:22px;height:22px;fill:#0c800c;" viewBox="0 0 24 24"><path d="M8 5v14l11-7z"/></svg>
<span class="t " style="left:1173.40px;top:293.50px;font-size:13px;color:#2c7a3c;font-weight:400;letter-spacing:0.084px">Activate</span>
<div class="row" style="top:331px"></div>
<span class="t sb" style="left:28.70px;top:346.50px;font-size:13px;color:#2b6dab;font-weight:400;letter-spacing:0.109px">media_extraction</span>
<div class="badge" style="top:345px"></div>
<span class="t " style="left:292.00px;top:347.11px;font-size:9.5px;color:#fff;font-weight:700;letter-spacing:-0.496px">OFF</span>
<div class="av" style="left:404px;top:348px;background:#2aa396"></div>
<span class="t ctr" style="left:415.50px;top:348.25px;font-size:8.5px;color:#fff;font-weight:700;letter-spacing:0.062px">AS</span>
<span class="t " style="left:431.60px;top:348.50px;font-size:13px;color:#737a80;font-weight:400;letter-spacing:-0.217px">Ayushman Singh</span>
<svg class="ic" style="left:658.65px;top:335.75px;width:22.5px;height:22.5px;fill:#e9a83a;" viewBox="0 0 24 24"><path d="M20 9H4v2h16V9zM4 15h16v-2H4v2z"/></svg>
<span class="t " style="left:684.60px;top:336.50px;font-size:13px;color:#444;font-weight:400;letter-spacing:0.019px">Medium</span>
<span class="t " style="left:659.40px;top:357.50px;font-size:13px;color:#8a8a8a;font-weight:400;letter-spacing:0.080px">Apr 18, 2023</span>
<svg class="ic" style="left:890px;top:345px;width:24px;height:26px" viewBox="0 0 24 26" fill="none" stroke="#1a73be" stroke-width="1.25" stroke-linecap="round" stroke-linejoin="round"><circle cx="5.4" cy="6.2" r="2.55" fill="#1a73be" stroke="none"/><circle cx="18.3" cy="19.3" r="2.8" fill="#1a73be" stroke="none"/><path d="M5.4 6.2V17Q5.4 19.300 7.700 19.300H13.400M10.900 16.100L13.800 19.300L10.900 22.500"/><path d="M18.300 19.300V8.600Q18.300 6.300 16 6.300H10.500M13.100 3.200L10.100 6.300L13.100 9.600"/></svg>
<svg class="ic" style="left:927.00px;top:346.10px;width:22px;height:22px;fill:#1a73be;" viewBox="0 0 24 24"><path d="M12 4.5C7 4.5 2.73 7.61 1 12c1.73 4.39 6 7.5 11 7.5s9.27-3.11 11-7.5c-1.73-4.39-6-7.5-11-7.5zM12 17c-2.76 0-5-2.24-5-5s2.24-5 5-5 5 2.24 5 5-2.24 5-5 5zm0-8c-1.66 0-3 1.34-3 3s1.34 3 3 3 3-1.34 3-3-1.34-3-3-3z"/></svg>
<svg class="ic" style="left:961px;top:347px;width:26px;height:22px" viewBox="0 0 26 22"><path d="M18.23 11.89L19.94 12.98L18.97 15.33L16.99 14.89L15.59 16.29L16.03 18.27L13.68 19.24L12.59 17.53L10.61 17.53L9.52 19.24L7.17 18.27L7.61 16.29L6.21 14.89L4.23 15.33L3.26 12.98L4.97 11.89L4.97 9.91L3.26 8.82L4.23 6.47L6.21 6.91L7.61 5.51L7.17 3.53L9.52 2.56L10.61 4.27L12.59 4.27L13.68 2.56L16.03 3.53L15.59 5.51L16.99 6.91L18.97 6.47L19.94 8.82L18.23 9.91ZM6.45 10.90a5.15 5.15 0 1 0 10.30 0a5.15 5.15 0 1 0 -10.30 0Z" fill="#1a73be" fill-rule="evenodd" stroke="#1a73be" stroke-width="0.700" stroke-linejoin="round"/><path d="M13 11.500L22 15.700" stroke="#fff" stroke-width="3.600" stroke-linecap="butt"/><path d="M12 11L22 15.700" stroke="#1a73be" stroke-width="2.300" stroke-linecap="round"/><path d="M9.850 8.200A2.200 2.200 0 1 1 8.700 11.400" fill="none" stroke="#1a73be" stroke-width="1.900" stroke-linecap="butt"/></svg>
<svg class="ic" style="left:999.30px;top:346.30px;width:21.4px;height:21.4px;fill:#1a73be;" viewBox="0 0 24 24"><path d="M19 3H5c-1.1 0-2 .9-2 2v14c0 1.1.9 2 2 2h14c1.1 0 2-.9 2-2V5c0-1.1-.9-2-2-2zM9 17H7v-7h2v7zm4 0h-2V7h2v10zm4 0h-2v-4h2v4z"/></svg>
<svg class="ic" style="left:1034px;top:345px;width:24px;height:22px" viewBox="0 0 24 22" fill="none"><path d="M5.600 15V9.800C5.600 6.300 7.400 4.300 10.400 4.300C13.400 4.300 15.200 6.300 15.200 9.800V15" stroke="#1a73be" stroke-width="1.150"/><path d="M3.600 15.300H17.200" stroke="#1a73be" stroke-width="1.300" stroke-linecap="round"/><path d="M3.500 15.500L5.600 13.300V15.500ZM17.300 15.500L15.200 13.300V15.500ZM8.500 4.900L10.400 1.900L12.300 4.900Z" fill="#1a73be"/><path d="M9.300 17.800H11.500" stroke="#1a73be" stroke-width="1.300" stroke-linecap="round"/><path d="M15.300 5.700L19.900 13H10.700Z" fill="#fff8ea" stroke="#f7c47c" stroke-width="0.900" stroke-linejoin="round"/><path d="M15.300 8V10.600M15.300 11.300V12.100" stroke="#eea236" stroke-width="1.200"/></svg>
<svg class="ic" style="left:1071.10px;top:346.10px;width:21.8px;height:21.8px;fill:#f0433a;" viewBox="0 0 24 24"><path d="M6 19c0 1.1.9 2 2 2h8c1.1 0 2-.9 2-2V7H6v12zM19 4h-3.5l-1-1h-5l-1 1H5v2h14V4z"/></svg>
<svg class="ic" style="left:1107.20px;top:346.00px;width:22px;height:22px;fill:#1a73be;" viewBox="0 0 24 24"><path d="M18 16.08c-.76 0-1.44.3-1.96.77L8.91 12.7c.05-.23.09-.46.09-.7s-.04-.47-.09-.7l7.05-4.11c.54.5 1.25.81 2.04.81 1.66 0 3-1.34 3-3s-1.34-3-3-3-3 1.34-3 3c0 .24.04.47.09.7L8.040 9.810C7.500 9.310 6.790 9 6 9c-1.660 0-3 1.340-3 3s1.340 3 3 3c.790 0 1.500-.310 2.040-.810l7.120 4.160c-.05.21-.08.43-.08.65 0 1.61 1.310 2.920 2.920 2.920 1.610 0 2.920-1.310 2.920-2.920s-1.310-2.920-2.920-2.920z"/></svg>
<svg class="ic" style="left:1150.70px;top:345.90px;width:22px;height:22px;fill:#0c800c;" viewBox="0 0 24 24"><path d="M8 5v14l11-7z"/></svg>
<span class="t " style="left:1173.40px;top:347.50px;font-size:13px;color:#2c7a3c;font-weight:400;letter-spacing:0.084px">Activate</span>
<div class="row" style="top:385px"></div>
<span class="t sb" style="left:28.70px;top:400.50px;font-size:13px;color:#2b6dab;font-weight:400;letter-spacing:0.091px">saturday</span>
<div class="badge" style="top:399px"></div>
<span class="t " style="left:292.00px;top:401.11px;font-size:9.5px;color:#fff;font-weight:700;letter-spacing:-0.496px">OFF</span>
<div class="av" style="left:404px;top:402px;background:#1b6ca8"></div>
<span class="t ctr" style="left:415.50px;top:402.25px;font-size:8.5px;color:#fff;font-weight:700;letter-spacing:0.000px">A</span>
<span class="t " style="left:431.60px;top:402.50px;font-size:13px;color:#737a80;font-weight:400;letter-spacing:-0.303px">Anubhav</span>
<svg class="ic" style="left:658.90px;top:389.60px;width:22px;height:22px;fill:#1fa21f;" viewBox="0 0 24 24"><path d="M16.59 8.59L12 13.17 7.41 8.59 6 10l6 6 6-6z"/></svg>
<span class="t " style="left:684.60px;top:390.50px;font-size:13px;color:#444;font-weight:400;letter-spacing:0.170px">Low</span>
<svg class="ic" style="left:890px;top:399px;width:24px;height:26px" viewBox="0 0 24 26" fill="none" stroke="#1a73be" stroke-width="1.25" stroke-linecap="round" stroke-linejoin="round"><circle cx="5.4" cy="6.2" r="2.55" fill="#1a73be" stroke="none"/><circle cx="18.3" cy="19.3" r="2.8" fill="#1a73be" stroke="none"/><path d="M5.4 6.2V17Q5.4 19.300 7.700 19.300H13.400M10.900 16.100L13.800 19.300L10.900 22.500"/><path d="M18.300 19.300V8.600Q18.300 6.300 16 6.300H10.500M13.100 3.200L10.100 6.300L13.100 9.600"/></svg>
<svg class="ic" style="left:927.00px;top:400.10px;width:22px;height:22px;fill:#1a73be;" viewBox="0 0 24 24"><path d="M12 4.5C7 4.5 2.73 7.61 1 12c1.73 4.39 6 7.5 11 7.5s9.27-3.11 11-7.5c-1.73-4.39-6-7.5-11-7.5zM12 17c-2.76 0-5-2.24-5-5s2.24-5 5-5 5 2.24 5 5-2.24 5-5 5zm0-8c-1.66 0-3 1.34-3 3s1.34 3 3 3 3-1.34 3-3-1.34-3-3-3z"/></svg>
<svg class="ic" style="left:961px;top:401px;width:26px;height:22px" viewBox="0 0 26 22"><path d="M18.23 11.89L19.94 12.98L18.97 15.33L16.99 14.89L15.59 16.29L16.03 18.27L13.68 19.24L12.59 17.53L10.61 17.53L9.52 19.24L7.17 18.27L7.61 16.29L6.21 14.89L4.23 15.33L3.26 12.98L4.97 11.89L4.97 9.91L3.26 8.82L4.23 6.47L6.21 6.91L7.61 5.51L7.17 3.53L9.52 2.56L10.61 4.27L12.59 4.27L13.68 2.56L16.03 3.53L15.59 5.51L16.99 6.91L18.97 6.47L19.94 8.82L18.23 9.91ZM6.45 10.90a5.15 5.15 0 1 0 10.30 0a5.15 5.15 0 1 0 -10.30 0Z" fill="#1a73be" fill-rule="evenodd" stroke="#1a73be" stroke-width="0.700" stroke-linejoin="round"/><path d="M13 11.500L22 15.700" stroke="#fff" stroke-width="3.600" stroke-linecap="butt"/><path d="M12 11L22 15.700" stroke="#1a73be" stroke-width="2.300" stroke-linecap="round"/><path d="M9.850 8.200A2.200 2.200 0 1 1 8.700 11.400" fill="none" stroke="#1a73be" stroke-width="1.900" stroke-linecap="butt"/></svg>
<svg class="ic" style="left:999.30px;top:400.30px;width:21.4px;height:21.4px;fill:#1a73be;" viewBox="0 0 24 24"><path d="M19 3H5c-1.1 0-2 .9-2 2v14c0 1.1.9 2 2 2h14c1.1 0 2-.9 2-2V5c0-1.1-.9-2-2-2zM9 17H7v-7h2v7zm4 0h-2V7h2v10zm4 0h-2v-4h2v4z"/></svg>
<svg class="ic" style="left:1034px;top:399px;width:24px;height:22px" viewBox="0 0 24 22" fill="none"><path d="M5.600 15V9.800C5.600 6.300 7.400 4.300 10.400 4.300C13.400 4.300 15.200 6.300 15.200 9.800V15" stroke="#1a73be" stroke-width="1.150"/><path d="M3.600 15.300H17.200" stroke="#1a73be" stroke-width="1.300" stroke-linecap="round"/><path d="M3.500 15.500L5.600 13.300V15.500ZM17.300 15.500L15.200 13.300V15.500ZM8.500 4.900L10.400 1.900L12.300 4.900Z" fill="#1a73be"/><path d="M9.300 17.800H11.500" stroke="#1a73be" stroke-width="1.300" stroke-linecap="round"/><path d="M15.300 5.700L19.900 13H10.700Z" fill="#fff8ea" stroke="#f7c47c" stroke-width="0.900" stroke-linejoin="round"/><path d="M15.300 8V10.600M15.300 11.300V12.100" stroke="#eea236" stroke-width="1.200"/></svg>
<svg class="ic" style="left:1071.10px;top:400.10px;width:21.8px;height:21.8px;fill:#f0433a;" viewBox="0 0 24 24"><path d="M6 19c0 1.1.9 2 2 2h8c1.1 0 2-.9 2-2V7H6v12zM19 4h-3.5l-1-1h-5l-1 1H5v2h14V4z"/></svg>
<svg class="ic" style="left:1107.20px;top:400.00px;width:22px;height:22px;fill:#1a73be;" viewBox="0 0 24 24"><path d="M18 16.08c-.76 0-1.44.3-1.96.77L8.91 12.7c.05-.23.09-.46.09-.7s-.04-.47-.09-.7l7.05-4.11c.54.5 1.25.81 2.04.81 1.66 0 3-1.34 3-3s-1.34-3-3-3-3 1.34-3 3c0 .24.04.47.09.7L8.040 9.810C7.500 9.310 6.790 9 6 9c-1.660 0-3 1.340-3 3s1.340 3 3 3c.790 0 1.500-.310 2.040-.810l7.120 4.160c-.05.21-.08.43-.08.65 0 1.61 1.310 2.920 2.920 2.920 1.610 0 2.920-1.310 2.920-2.920s-1.310-2.920-2.920-2.920z"/></svg>
<svg class="ic" style="left:1150.70px;top:399.90px;width:22px;height:22px;fill:#0c800c;" viewBox="0 0 24 24"><path d="M8 5v14l11-7z"/></svg>
<span class="t " style="left:1173.40px;top:401.50px;font-size:13px;color:#2c7a3c;font-weight:400;letter-spacing:0.084px">Activate</span>
</div>
<div class="abs" style="left:1345px;top:89px;width:7px;height:466px;background:#f1f1f1"></div>
<div class="abs" style="left:1345px;top:89px;width:7px;height:362px;background:#b5b3b4;border-radius:2px"></div>
<span class="t " style="left:948.60px;top:569.79px;font-size:11px;color:#9b9b9b;font-weight:400;letter-spacing:-0.070px">Items per page:</span>
<span class="t " style="left:1031.00px;top:569.79px;font-size:11px;color:#444;font-weight:400;letter-spacing:-0.118px">10</span>
<svg class="ic" style="left:1062.90px;top:571.00px;width:19px;height:19px;fill:#6e6e6e;" viewBox="0 0 24 24"><path d="M7 10l5 5 5-5z"/></svg>
<div class="abs" style="left:1030px;top:591px;width:50px;height:1px;background:#9a9a9a"></div>
<span class="t " style="left:1114.00px;top:569.19px;font-size:11px;color:#8d8d8d;font-weight:400;letter-spacing:-0.053px">1 – 10 of 12</span>
<svg class="ic" style="left:1205.80px;top:568.80px;width:25px;height:25px;fill:#bdbdbd;" viewBox="0 0 24 24"><path d="M18.41 16.59L13.82 12l4.59-4.59L17 6l-6 6 6 6zM6 6h2v12H6z"/></svg>
<svg class="ic" style="left:1242.10px;top:568.80px;width:25px;height:25px;fill:#bdbdbd;" viewBox="0 0 24 24"><path d="M15.41 7.41L14 6l-6 6 6 6 1.41-1.41L10.83 12z"/></svg>
<svg class="ic" style="left:1278.20px;top:568.80px;width:25px;height:25px;fill:#626262;" viewBox="0 0 24 24"><path d="M10 6L8.59 7.41 13.17 12l-4.58 4.59L10 18l6-6z"/></svg>
<svg class="ic" style="left:1314.30px;top:568.80px;width:25px;height:25px;fill:#626262;" viewBox="0 0 24 24"><path d="M5.59 7.41L10.18 12l-4.59 4.59L7 18l6-6-6-6zM16 6h2v12h-2z"/></svg>
</body></html>
